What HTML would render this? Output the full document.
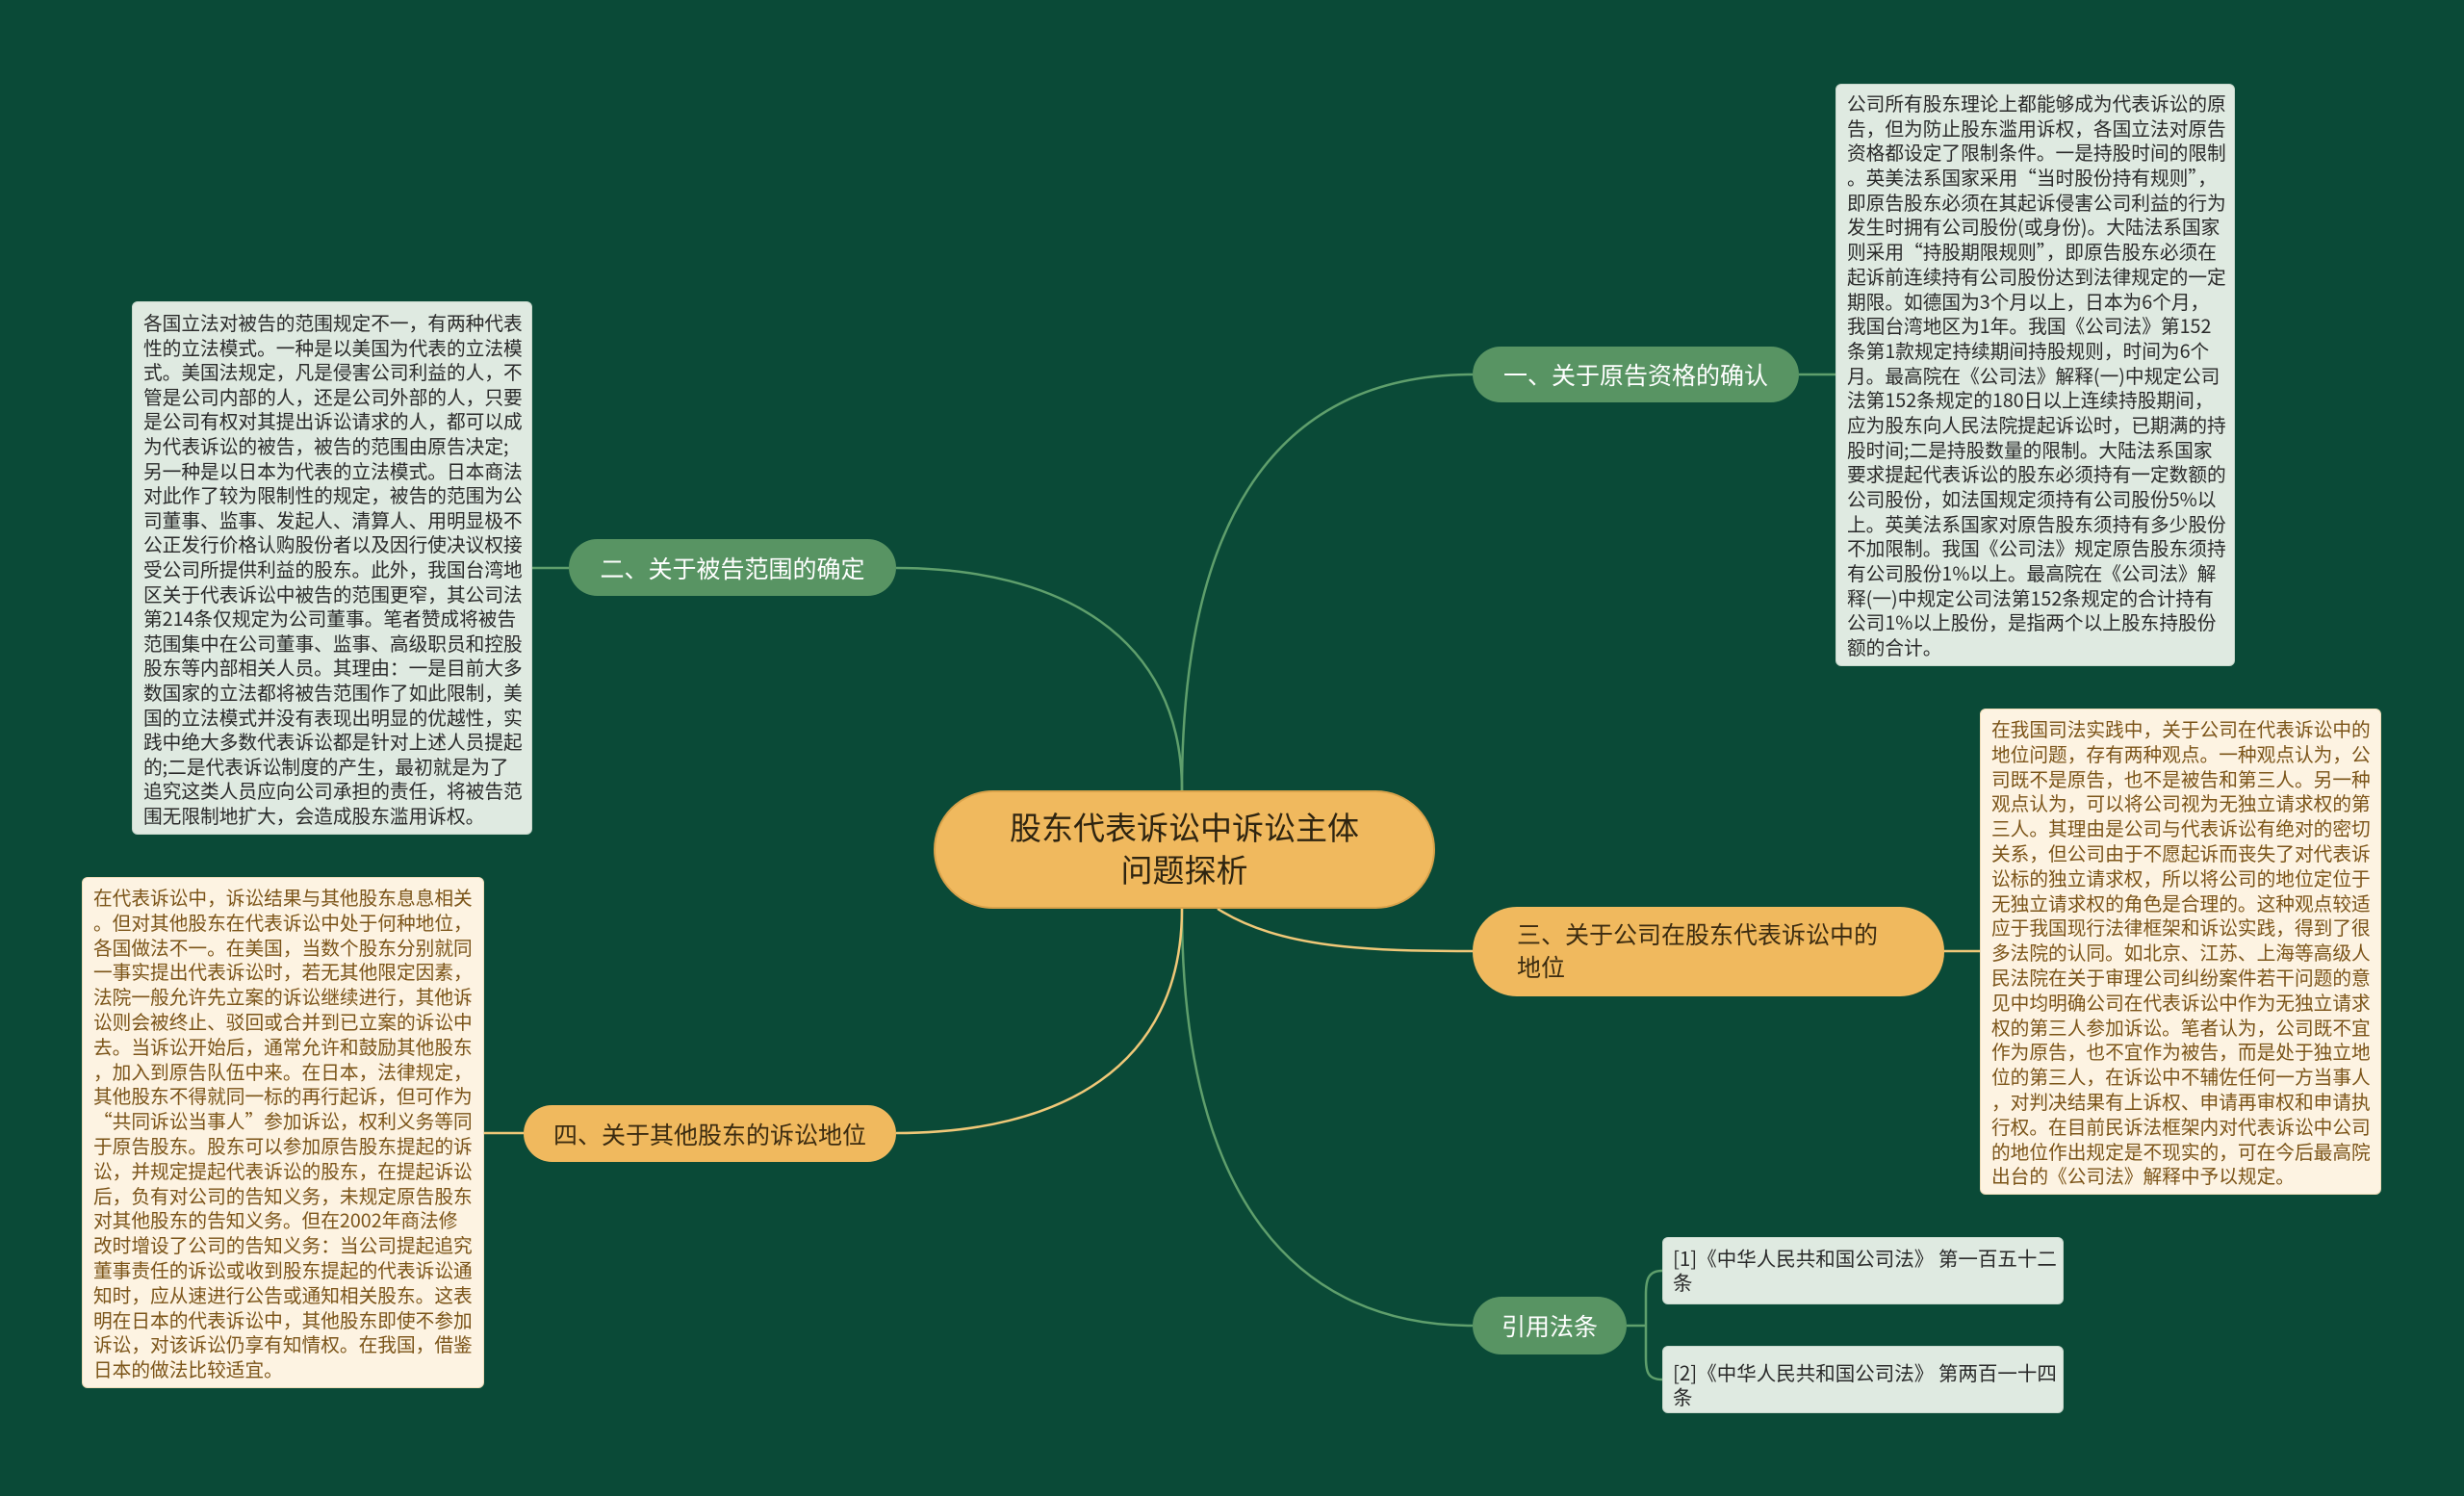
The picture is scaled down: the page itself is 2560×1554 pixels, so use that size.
<!DOCTYPE html>
<html><head><meta charset="utf-8">
<style>
*{margin:0;padding:0;box-sizing:border-box}
body{width:2560px;height:1554px;background:#0a4a37;position:relative;overflow:hidden;font-family:"Liberation Sans","Noto Sans CJK SC",sans-serif}
.abs{position:absolute}
.box{position:absolute;border-radius:6px;padding:7px 11px;font-size:19.7px;white-space:nowrap;font-family:"Noto Sans CJK SC","Liberation Sans",sans-serif}
.box>div{overflow:visible}
.g{background:#dfeae1;color:#2a2a2a;border:1px solid #c8d8cc}
.o{background:#fdf3e2;color:#7b5418;border:1px solid #efdcb8}
.node{position:absolute;border-radius:32px;display:flex;align-items:center;justify-content:center;font-size:25px;white-space:nowrap}
.gn{background:#589463;color:#fff}
.on{background:#f0b95e;color:#3b2b10}
</style></head><body>
<svg class="abs" style="left:0;top:0" width="2560" height="1554">
<g fill="none" stroke-width="2.5">
<path d="M1228,821 C1228,520 1340,389 1530,389" stroke="#5f9f6c"/>
<path d="M1228,821 C1228,660 1100,590 931,590" stroke="#5f9f6c"/>
<path d="M1228,944 C1228,1250 1350,1377 1530,1377" stroke="#5f9f6c"/>
<path d="M1265,944 C1330,985 1420,988 1530,988" stroke="#f0c878"/>
<path d="M1228,944 C1228,1110 1100,1177 931,1177" stroke="#f0c878"/>
<path d="M1869,389 L1907,389" stroke="#5f9f6c"/>
<path d="M591,590 L553,590" stroke="#5f9f6c"/>
<path d="M2020,988 L2057,988" stroke="#f0c878"/>
<path d="M544,1177 L503,1177" stroke="#f0c878"/>
<path d="M1690,1377 L1710,1377 M1727,1320 C1712,1320 1710,1330 1710,1345 L1710,1410 C1710,1425 1712,1433 1727,1433" stroke="#5f9f6c"/>
</g>
</svg>

<div class="node on" style="left:970px;top:821px;width:521px;height:123px;border-radius:62px;font-size:33px;line-height:44px;text-align:center;border:2px solid #d9a24a;color:#2e2410">股东代表诉讼中诉讼主体<br>问题探析</div>

<div class="node gn" style="left:1530px;top:360px;width:339px;height:58px">一、关于原告资格的确认</div>
<div class="node gn" style="left:591px;top:560px;width:340px;height:59px">二、关于被告范围的确定</div>
<div class="node on" style="left:1530px;top:942px;width:490px;height:93px;justify-content:flex-start;padding-left:46px;line-height:34px;border-radius:46px">三、关于公司在股东代表诉讼中的<br>地位</div>
<div class="node on" style="left:544px;top:1148px;width:387px;height:59px">四、关于其他股东的诉讼地位</div>
<div class="node gn" style="left:1530px;top:1347px;width:160px;height:60px">引用法条</div>

<div class="box g" data-lh="25.7" style="left:1907px;top:87px;width:415px;height:605px;line-height:25.7px;padding-top:6px">公司所有股东理论上都能够成为代表诉讼的原<br>告，但为防止股东滥用诉权，各国立法对原告<br>资格都设定了限制条件。一是持股时间的限制<br>。英美法系国家采用“当时股份持有规则”，<br>即原告股东必须在其起诉侵害公司利益的行为<br>发生时拥有公司股份(或身份)。大陆法系国家<br>则采用“持股期限规则”，即原告股东必须在<br>起诉前连续持有公司股份达到法律规定的一定<br>期限。如德国为3个月以上，日本为6个月，<br>我国台湾地区为1年。我国《公司法》第152<br>条第1款规定持续期间持股规则，时间为6个<br>月。最高院在《公司法》解释(一)中规定公司<br>法第152条规定的180日以上连续持股期间，<br>应为股东向人民法院提起诉讼时，已期满的持<br>股时间;二是持股数量的限制。大陆法系国家<br>要求提起代表诉讼的股东必须持有一定数额的<br>公司股份，如法国规定须持有公司股份5%以<br>上。英美法系国家对原告股东须持有多少股份<br>不加限制。我国《公司法》规定原告股东须持<br>有公司股份1%以上。最高院在《公司法》解<br>释(一)中规定公司法第152条规定的合计持有<br>公司1%以上股份，是指两个以上股东持股份<br>额的合计。</div>

<div class="box g" data-lh="25.6" style="left:137px;top:313px;width:416px;height:554px;line-height:25.6px;padding-top:8px">各国立法对被告的范围规定不一，有两种代表<br>性的立法模式。一种是以美国为代表的立法模<br>式。美国法规定，凡是侵害公司利益的人，不<br>管是公司内部的人，还是公司外部的人，只要<br>是公司有权对其提出诉讼请求的人，都可以成<br>为代表诉讼的被告，被告的范围由原告决定;<br>另一种是以日本为代表的立法模式。日本商法<br>对此作了较为限制性的规定，被告的范围为公<br>司董事、监事、发起人、清算人、用明显极不<br>公正发行价格认购股份者以及因行使决议权接<br>受公司所提供利益的股东。此外，我国台湾地<br>区关于代表诉讼中被告的范围更窄，其公司法<br>第214条仅规定为公司董事。笔者赞成将被告<br>范围集中在公司董事、监事、高级职员和控股<br>股东等内部相关人员。其理由：一是目前大多<br>数国家的立法都将被告范围作了如此限制，美<br>国的立法模式并没有表现出明显的优越性，实<br>践中绝大多数代表诉讼都是针对上述人员提起<br>的;二是代表诉讼制度的产生，最初就是为了<br>追究这类人员应向公司承担的责任，将被告范<br>围无限制地扩大，会造成股东滥用诉权。</div>

<div class="box o" data-lh="25.8" style="left:2057px;top:736px;width:417px;height:505px;line-height:25.8px">在我国司法实践中，关于公司在代表诉讼中的<br>地位问题，存有两种观点。一种观点认为，公<br>司既不是原告，也不是被告和第三人。另一种<br>观点认为，可以将公司视为无独立请求权的第<br>三人。其理由是公司与代表诉讼有绝对的密切<br>关系，但公司由于不愿起诉而丧失了对代表诉<br>讼标的独立请求权，所以将公司的地位定位于<br>无独立请求权的角色是合理的。这种观点较适<br>应于我国现行法律框架和诉讼实践，得到了很<br>多法院的认同。如北京、江苏、上海等高级人<br>民法院在关于审理公司纠纷案件若干问题的意<br>见中均明确公司在代表诉讼中作为无独立请求<br>权的第三人参加诉讼。笔者认为，公司既不宜<br>作为原告，也不宜作为被告，而是处于独立地<br>位的第三人，在诉讼中不辅佐任何一方当事人<br>，对判决结果有上诉权、申请再审权和申请执<br>行权。在目前民诉法框架内对代表诉讼中公司<br>的地位作出规定是不现实的，可在今后最高院<br>出台的《公司法》解释中予以规定。</div>

<div class="box o" data-lh="25.8" style="left:85px;top:911px;width:418px;height:531px;line-height:25.8px">在代表诉讼中，诉讼结果与其他股东息息相关<br>。但对其他股东在代表诉讼中处于何种地位，<br>各国做法不一。在美国，当数个股东分别就同<br>一事实提出代表诉讼时，若无其他限定因素，<br>法院一般允许先立案的诉讼继续进行，其他诉<br>讼则会被终止、驳回或合并到已立案的诉讼中<br>去。当诉讼开始后，通常允许和鼓励其他股东<br>，加入到原告队伍中来。在日本，法律规定，<br>其他股东不得就同一标的再行起诉，但可作为<br>“共同诉讼当事人”参加诉讼，权利义务等同<br>于原告股东。股东可以参加原告股东提起的诉<br>讼，并规定提起代表诉讼的股东，在提起诉讼<br>后，负有对公司的告知义务，未规定原告股东<br>对其他股东的告知义务。但在2002年商法修<br>改时增设了公司的告知义务：当公司提起追究<br>董事责任的诉讼或收到股东提起的代表诉讼通<br>知时，应从速进行公告或通知相关股东。这表<br>明在日本的代表诉讼中，其他股东即使不参加<br>诉讼，对该诉讼仍享有知情权。在我国，借鉴<br>日本的做法比较适宜。</div>

<div class="box g" data-lh="25" style="left:1727px;top:1285px;width:417px;height:70px;font-size:20.5px;line-height:25px;padding:8px 10px">[1]《中华人民共和国公司法》 第一百五十二<br>条</div>
<div class="box g" data-lh="25" style="left:1727px;top:1398px;width:417px;height:70px;font-size:20.5px;line-height:25px;padding:14px 10px 0">[2]《中华人民共和国公司法》 第两百一十四<br>条</div>
<script>
document.querySelectorAll('.box').forEach(function(b){
  var lh=b.getAttribute('data-lh');
  var parts=b.innerHTML.split(/<br\s*\/?>/i);
  b.innerHTML=parts.map(function(p){return '<div style="height:'+lh+'px;line-height:'+lh+'px">'+p+'</div>';}).join('');
});
</script>
</body></html>
